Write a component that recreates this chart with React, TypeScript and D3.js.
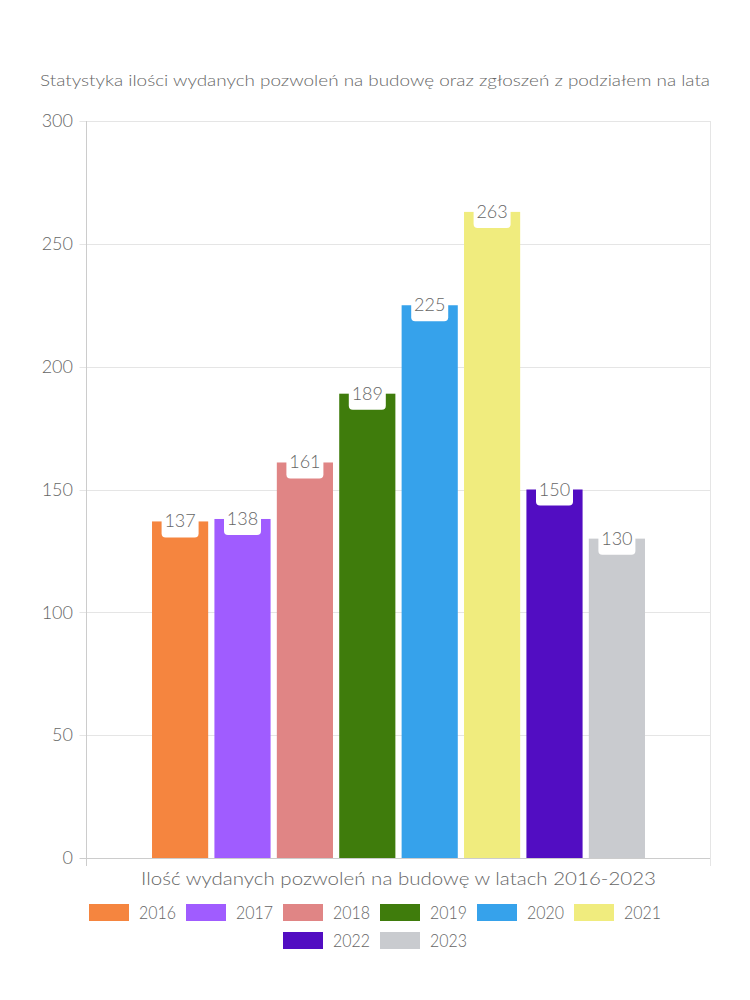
import React from "react";
import * as d3 from "d3";

const years = ["2016", "2017", "2018", "2019", "2020", "2021", "2022", "2023"];
const values = [137, 138, 161, 189, 225, 263, 150, 130];
const colors = ["#F5853F", "#A05CFF", "#E08585", "#3F7C0C", "#36A2EB", "#F0EC7E", "#520DC2", "#C9CBCF"];
const yTicks = [0, 50, 100, 150, 200, 250, 300];
const title = "Statystyka ilości wydanych pozwoleń na budowę oraz zgłoszeń z podziałem na lata";
const xTitle = "Ilość wydanych pozwoleń na budowę w latach 2016-2023";
const groupName = ["all"];

const W = 750;
const H = 1000;
const FONT = "Lato, 'Noto Sans', sans-serif";
const FW = 300;
const TXT = "#666";
const GRID = "#e5e5e5";

export default function App() {
  const left = 86.5;
  const right = 710.5;
  const top = 121;
  const bottom = 858;

  const y = d3.scaleLinear().domain([0, 300]).range([bottom, top]);
  const x0 = d3.scaleBand<string>().domain(groupName).range([left, right]).paddingOuter(0.125);
  const x1 = d3
    .scaleBand<string>()
    .domain(years)
    .range([0, x0.bandwidth()])
    .paddingInner(0.1)
    .paddingOuter(0.05);
  const gx = x0("all")!;
  const bw = x1.bandwidth();

  // legend layout
  const legFont = 18;
  const boxW = 40;
  const textW = 37;
  const pad = 10;
  const items = years.map((yr, i) => ({ yr, color: colors[i], w: boxW + 10 + textW }));
  const perRow = 6;
  const rows = [items.slice(0, perRow), items.slice(perRow)];

  return (
    <svg width={W} height={H} style={{ display: "block", margin: "-8px", background: "#fff" }} fontFamily={FONT} fontWeight={FW}>
      <text x={375} y={86} textAnchor="middle" fontSize={16.5} fill={TXT} textLength={670} lengthAdjust="spacingAndGlyphs">
        {title}
      </text>

      {yTicks.map((t) => (
        <g key={t}>
          <line x1={left - 7} x2={right} y1={Math.round(y(t)) + 0.5} y2={Math.round(y(t)) + 0.5} stroke={t === 0 ? "#ccc" : GRID} />
          <text x={73} y={y(t)} dy="0.35em" textAnchor="end" fontSize={18} fill={TXT}>
            {t}
          </text>
        </g>
      ))}
      <line x1={left} x2={left} y1={top} y2={bottom + 8} stroke="#ccc" />
      <line x1={right} x2={right} y1={top} y2={bottom + 8} stroke={GRID} />

      {years.map((yr, i) => {
        const bx = gx + x1(yr)!;
        const by = y(values[i]);
        return <rect key={yr} x={bx} y={by} width={bw} height={bottom - by} fill={colors[i]} />;
      })}

      {years.map((yr, i) => {
        const cx = gx + x1(yr)! + bw / 2;
        const by = y(values[i]);
        const lw = 37;
        return (
          <g key={"l" + yr}>
            <rect x={cx - lw / 2} y={by - 20} width={lw} height={36} rx={4} fill="#fff" />
            <text x={cx} y={by + 6} textAnchor="middle" fontSize={18} fill={TXT}>
              {values[i]}
            </text>
          </g>
        );
      })}

      <text x={(left + right) / 2} y={885} textAnchor="middle" fontSize={18} fill={TXT} textLength={515} lengthAdjust="spacingAndGlyphs">
        {xTitle}
      </text>

      {rows.map((row, ri) => {
        const total = row.reduce((s, it) => s + it.w, 0) + pad * (row.length - 1);
        let cx = W / 2 - total / 2;
        const cy = 912.5 + ri * 28;
        return row.map((it) => {
          const sx = cx;
          cx += it.w + pad;
          return (
            <g key={it.yr}>
              <rect x={sx} y={cy - 8.5} width={boxW} height={17} fill={it.color} />
              <text x={sx + boxW + 10} y={cy} dy="0.35em" fontSize={legFont} fill={TXT} textLength={textW} lengthAdjust="spacingAndGlyphs">
                {it.yr}
              </text>
            </g>
          );
        });
      })}
    </svg>
  );
}
